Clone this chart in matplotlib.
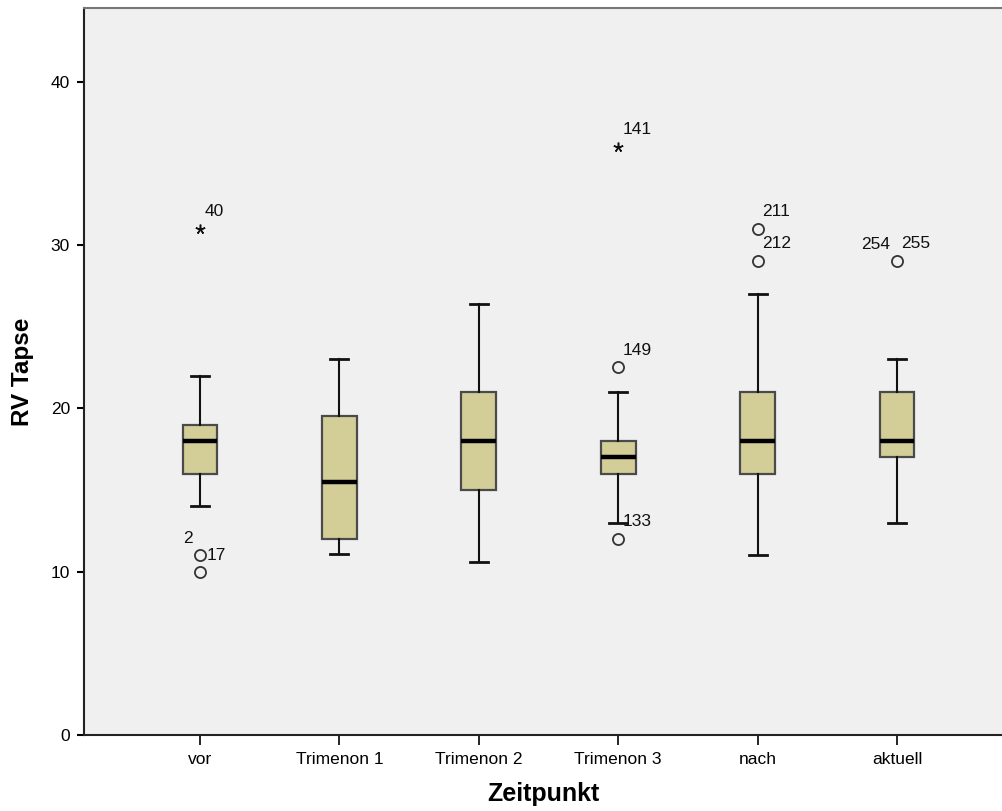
import matplotlib
matplotlib.use("Agg")
import matplotlib.pyplot as plt

plt.rcParams['font.family'] = ['Liberation Sans', 'DejaVu Sans']

# box statistics
categories = ['vor', 'Trimenon 1', 'Trimenon 2', 'Trimenon 3', 'nach', 'aktuell']
whisker_low = [14, 11.1, 10.6, 13, 11, 13]
quart1 = [16, 12, 15, 16, 16, 17]
medians = [18, 15.5, 18, 17, 18, 18]
quart3 = [19, 19.5, 21, 18, 21, 21]
whisker_high = [22, 23, 26.4, 21, 27, 23]

# outliers: (group index, value)
circle_out = [(0, 11), (0, 10), (3, 22.5), (3, 12), (4, 31), (4, 29), (5, 29)]
star_out = [(0, 31), (3, 36)]

# case labels: (group index, value, text, side)
case_labels = [
    (0, 31, '40', 'up'),
    (0, 11, '2', 'upleft'),
    (0, 11, '17', 'right'),
    (3, 36, '141', 'up'),
    (3, 22.5, '149', 'up'),
    (3, 12, '133', 'up'),
    (4, 31, '211', 'up'),
    (4, 29, '212', 'up'),
    (5, 29, '254', 'upleft'),
    (5, 29, '255', 'up'),
]

fig = plt.figure(figsize=(10.02, 8.11), dpi=100)
ax = fig.add_axes([0.0838, 0.0937, 0.9162, 0.8964])
ax.set_facecolor('#F0F0F0')

stats = []
for i in range(len(categories)):
    stats.append(dict(label=categories[i], whislo=whisker_low[i], q1=quart1[i],
                      med=medians[i], q3=quart3[i], whishi=whisker_high[i], fliers=[]))

ax.bxp(stats, positions=range(len(categories)), widths=0.25, patch_artist=True,
       showfliers=False,
       boxprops=dict(facecolor='#D3CE97', edgecolor='#4a4a4a', linewidth=1.6),
       medianprops=dict(color='black', linewidth=3.2),
       whiskerprops=dict(color='#111111', linewidth=1.5),
       capprops=dict(color='#111111', linewidth=2.0), capwidths=0.13)

ax.plot([p[0] for p in circle_out], [p[1] for p in circle_out], linestyle='none',
        marker='o', markersize=8, markerfacecolor='none', markeredgecolor='#333333',
        markeredgewidth=1.3)
ax.plot([p[0] for p in star_out], [p[1] for p in star_out], linestyle='none',
        marker=(5, 2, 0), markersize=7, color='#111111', markeredgewidth=1.1)

offsets = {'up': ((3.2, 12.5), 'left'), 'upleft': ((-5, 12), 'right'), 'right': ((4.5, 0), 'left')}
for g, v, txt, side in case_labels:
    off, ha = offsets[side]
    ax.annotate(txt, (g, v), xytext=off, textcoords='offset points', ha=ha, va='center',
                fontsize=12.5, color='#111111')

ax.set_xlim(-0.832, 5.753)
ax.set_ylim(0, 44.5)
ax.set_xticks(range(len(categories)))
ax.set_xticklabels(categories, fontsize=12.5)
ax.set_yticks([0, 10, 20, 30, 40])
ax.tick_params(axis='y', labelsize=12.5, length=5, width=1.5, pad=5)
ax.tick_params(axis='x', length=7, width=1.2, pad=5)

for s in ['left', 'bottom']:
    ax.spines[s].set_linewidth(1.5)
    ax.spines[s].set_color('#222222')
ax.spines['top'].set_color('#777777')
ax.spines['top'].set_linewidth(1.5)
ax.spines['right'].set_visible(False)

ax.set_ylabel('RV Tapse', fontsize=17.5, fontweight='bold', labelpad=12)
ax.set_xlabel('Zeitpunkt', fontsize=18, fontweight='bold', labelpad=11)

fig.savefig('out.png', dpi=100)
